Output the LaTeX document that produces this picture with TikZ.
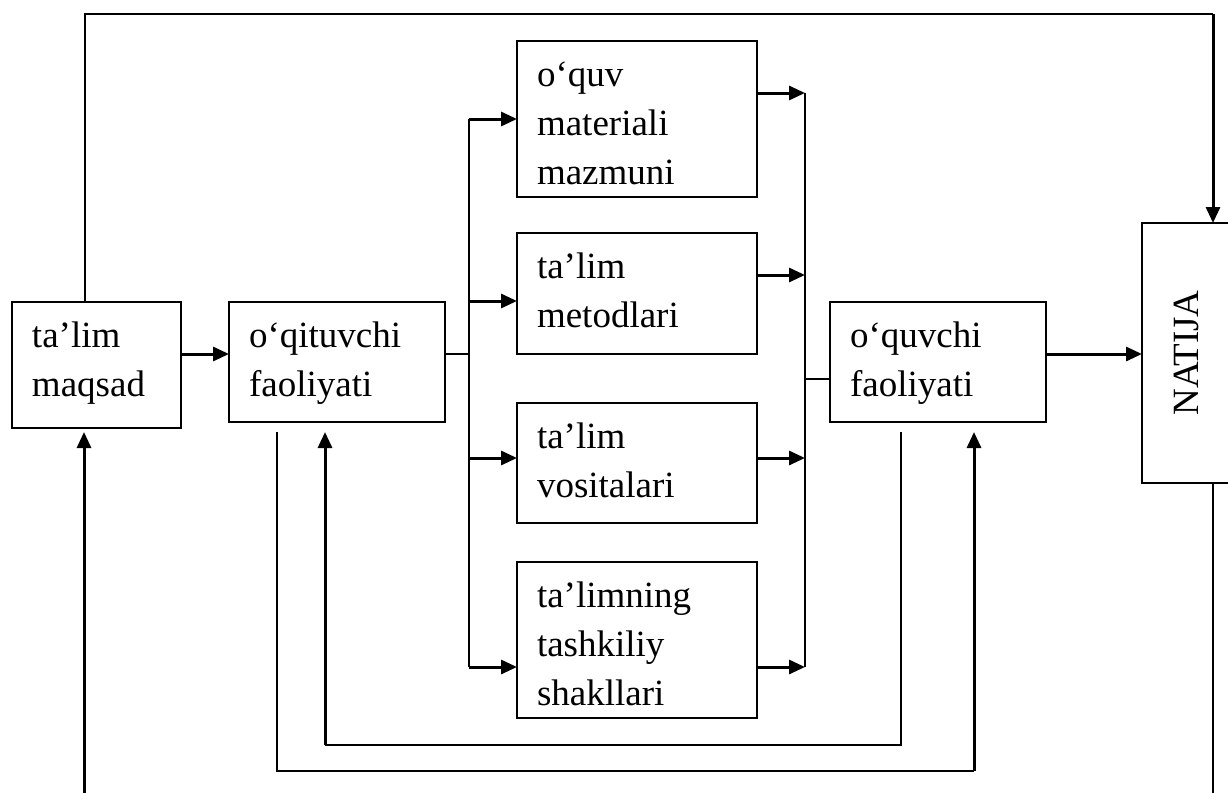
\documentclass[tikz,border=0pt]{standalone}
\usepackage{fontspec}
\setmainfont{Liberation Serif}
\usetikzlibrary{arrows.meta,calc}
\newcommand\bxt[3]{\parbox[c][#2][t]{#1}{\raggedright\leftskip=20pt\relax\rule{0pt}{45pt}#3}}
\begin{document}
\begin{tikzpicture}[x=1pt,y=-1pt,
  box/.style={draw, line width=2pt, inner sep=0pt, outer sep=0pt, anchor=north west,
    font=\fontsize{37pt}{49pt}\selectfont},
  thinl/.style={line width=1.8pt},
  trunk/.style={line width=2.2pt},
  arr/.style={line width=3pt, -{Triangle[length=16pt,width=14pt]}}]
\useasboundingbox (0,0) rectangle (1228,792);
\fill[white] (0,0) rectangle (1228,792);

% boxes
\node[box] (maqsad) at (12,302) {\bxt{169pt}{126pt}{ta’lim\\maqsad}};
\node[box] (oqit) at (229,302) {\bxt{216pt}{120pt}{o‘qituvchi\\faoliyati}};
\node[box] (b1) at (517,41) {\bxt{240pt}{156pt}{o‘quv\\materiali\\mazmuni}};
\node[box] (b2) at (517,233) {\bxt{240pt}{121pt}{ta’lim\\metodlari}};
\node[box] (b3) at (517,403) {\bxt{240pt}{120pt}{ta’lim\\vositalari}};
\node[box] (b4) at (517,562) {\bxt{240pt}{156pt}{ta’limning\\tashkiliy\\shakllari}};
\node[box] (oquv) at (830,302) {\bxt{216pt}{120pt}{o‘quvchi\\faoliyati}};
\node[box, minimum width=88pt, minimum height=260pt] (natija) at (1142,223) {};
\node[font=\fontsize{37pt}{49pt}\selectfont, rotate=90, inner sep=0pt] (natijat) at (natija.center) {NATIJA};

% helper coordinates
\coordinate (a1) at (0,354);
\coordinate (a2) at (0,379);
\coordinate (g1) at (0,432);
\coordinate (tl1) at (469,119);
\coordinate (tl2) at (469,301);
\coordinate (tl3) at (469,458);
\coordinate (tl4) at (469,667);
\coordinate (tr1) at (805,93);
\coordinate (tr2) at (805,275);
\coordinate (tr3) at (805,458);
\coordinate (tr4) at (805,667);
\coordinate (top1) at (85,14);
\coordinate (top2) at (1213,14);
\coordinate (nb) at (1213,800);
\coordinate (bot) at (84,800);
\coordinate (i1) at (901,432);
\coordinate (c1) at (325,745);
\coordinate (o1) at (277,432);
\coordinate (c2) at (974,771);

% main flow
\draw[arr] (maqsad.east |- a1) -- (oqit.west |- a1);
\draw[line width=1.3pt] (oqit.east |- a1) -- (tl1 |- a1);
\draw[trunk] (tl1) -- (tl4);
\draw[arr] (tl1) -- (tl1 -| b1.west);
\draw[arr] (tl2) -- (tl2 -| b2.west);
\draw[arr] (tl3) -- (tl3 -| b3.west);
\draw[arr] (tl4) -- (tl4 -| b4.west);
\draw[arr] (b1.east |- tr1) -- (tr1);
\draw[arr] (b2.east |- tr2) -- (tr2);
\draw[arr] (b3.east |- tr3) -- (tr3);
\draw[arr] (b4.east |- tr4) -- (tr4);
\draw[trunk] (tr1) -- (tr4);
\draw[line width=1.3pt] (tr1 |- a2) -- (oquv.west |- a2);
\draw[arr] (oquv.east |- a1) -- (natija.west |- a1);

% top feedback
\draw[thinl] (maqsad.north -| top1) |- (top2);
\draw[arr] (top2) -- (top2 |- natija.north);
\draw[thinl] (top2 |- natija.south) -- (nb);

% bottom arrows
\draw[arr] (bot) -- (bot |- g1);
\draw[thinl] (i1) |- (c1);
\draw[arr] (c1) -- (c1 |- g1);
\draw[thinl] (o1) |- (c2);
\draw[arr] (c2) -- (c2 |- g1);
\end{tikzpicture}
\end{document}
